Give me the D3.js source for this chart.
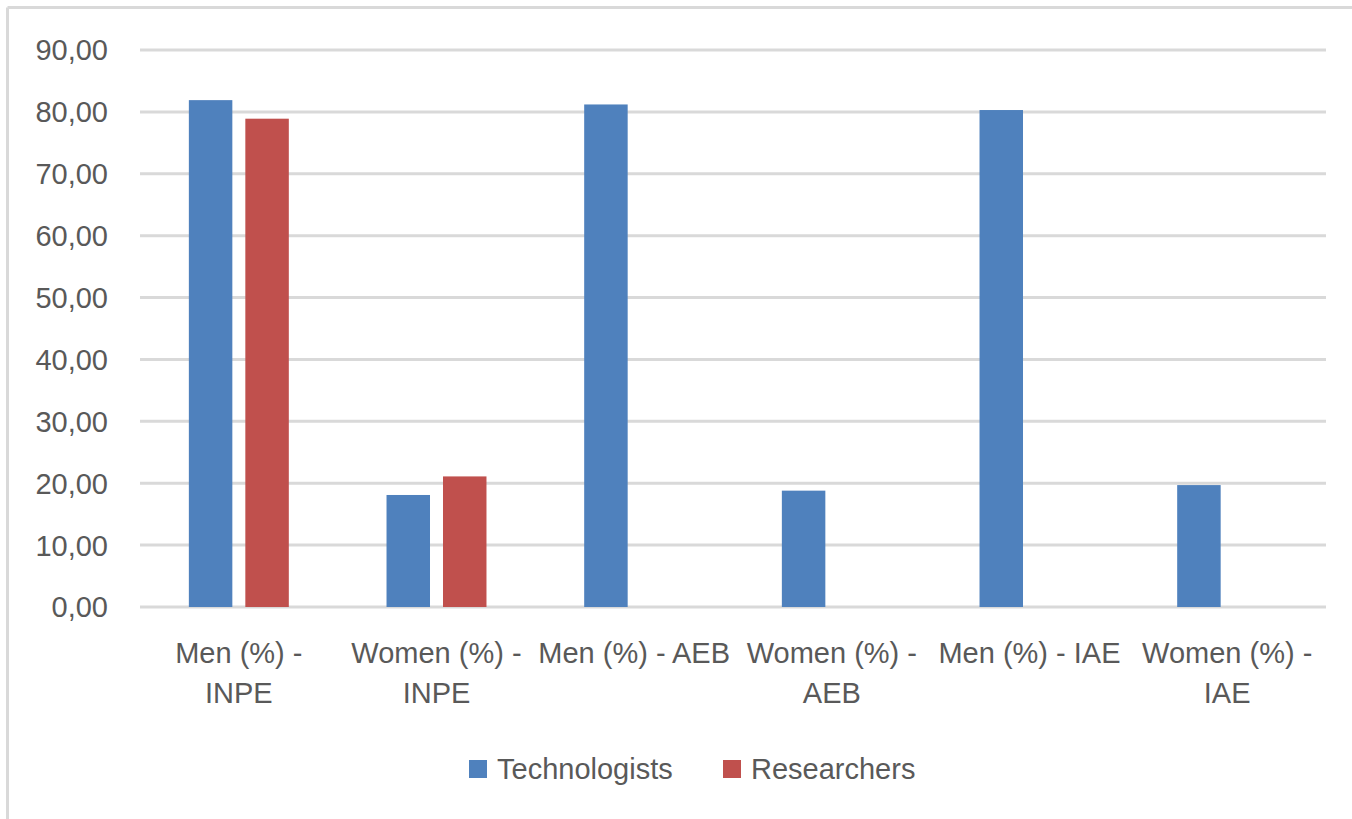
<!DOCTYPE html>
<html>
<head>
<meta charset="utf-8">
<script src="https://cdn.jsdelivr.net/npm/d3@7"></script>
<style>
  body { margin: 0; background: #fff; }
  text { font-family: "Liberation Sans", Arial, sans-serif; fill: #595959; }
</style>
</head>
<body>
<svg id="chart" width="1352" height="819"></svg>
<script>
// data
var categories = ["Men (%) - INPE", "Women (%) - INPE", "Men (%) - AEB",
                  "Women (%) - AEB", "Men (%) - IAE", "Women (%) - IAE"];
// how Excel wrapped each label
var labelLines = [["Men (%) -", "INPE"], ["Women (%) -", "INPE"], ["Men (%) - AEB"],
                  ["Women (%) -", "AEB"], ["Men (%) - IAE"], ["Women (%) -", "IAE"]];
var seriesNames = ["Technologists", "Researchers"];
var technologists = [81.9, 18.1, 81.2, 18.8, 80.3, 19.7];
var researchers = [78.9, 21.1, null, null, null, null];
var yTicks = [0, 10, 20, 30, 40, 50, 60, 70, 80, 90];
var colors = ["#4f81bd", "#c0504d"];

var svg = d3.select("#chart");

// chart frame: only top and left edges are visible
svg.append("line").attr("x1", 7.5).attr("x2", 1352).attr("y1", 7.5).attr("y2", 7.5)
    .attr("stroke", "#d9d9d9").attr("stroke-width", 3);
svg.append("line").attr("x1", 7.5).attr("x2", 7.5).attr("y1", 7.5).attr("y2", 819)
    .attr("stroke", "#d9d9d9").attr("stroke-width", 3);

var plotLeft = 140, plotRight = 1326, plotTop = 50, plotBottom = 607;

var x = d3.scaleBand().domain(categories).range([plotLeft, plotRight]);
var x1 = d3.scaleBand().domain(seriesNames).range([0, x.bandwidth()])
    .paddingInner(0.23).paddingOuter(0.865);
var y = d3.scaleLinear().domain([0, 90]).range([plotBottom, plotTop]);

// gridlines + tick labels
var grid = svg.append("g");
grid.selectAll("line").data(yTicks).enter().append("line")
    .attr("x1", plotLeft).attr("x2", plotRight)
    .attr("y1", function (d) { return y(d); })
    .attr("y2", function (d) { return y(d); })
    .attr("stroke", "#d9d9d9").attr("stroke-width", 3);

grid.selectAll("text").data(yTicks).enter().append("text")
    .attr("x", 108)
    .attr("y", function (d) { return y(d); })
    .attr("dy", "0.36em")
    .attr("text-anchor", "end")
    .style("font-size", "29px")
    .text(function (d) { return d.toFixed(2).replace(".", ","); });

// bars
var series = [technologists, researchers];
series.forEach(function (vals, s) {
    svg.append("g").selectAll("rect")
        .data(vals.map(function (v, i) { return { cat: categories[i], v: v }; })
            .filter(function (d) { return d.v != null; }))
        .enter().append("rect")
        .attr("x", function (d) { return x(d.cat) + x1(seriesNames[s]); })
        .attr("width", x1.bandwidth())
        .attr("y", function (d) { return y(d.v); })
        .attr("height", function (d) { return y(0) - y(d.v); })
        .attr("fill", colors[s]);
});

// category labels
var lab = svg.append("g").selectAll("text").data(categories).enter().append("text")
    .attr("text-anchor", "middle")
    .style("font-size", "29px");
lab.each(function (d, i) {
    var t = d3.select(this);
    labelLines[i].forEach(function (line, k) {
        t.append("tspan")
            .attr("x", x(d) + x.bandwidth() / 2)
            .attr("y", 663 + k * 40)
            .text(line);
    });
});

// legend
var legendX = [469, 723];
var legend = svg.append("g").selectAll("g").data(seriesNames).enter().append("g")
    .attr("transform", function (d, i) { return "translate(" + legendX[i] + ",760)"; });
legend.append("rect").attr("width", 18).attr("height", 18)
    .attr("fill", function (d, i) { return colors[i]; });
legend.append("text").attr("x", 28).attr("y", 19)
    .style("font-size", "29px")
    .text(function (d) { return d; });
</script>
</body>
</html>
